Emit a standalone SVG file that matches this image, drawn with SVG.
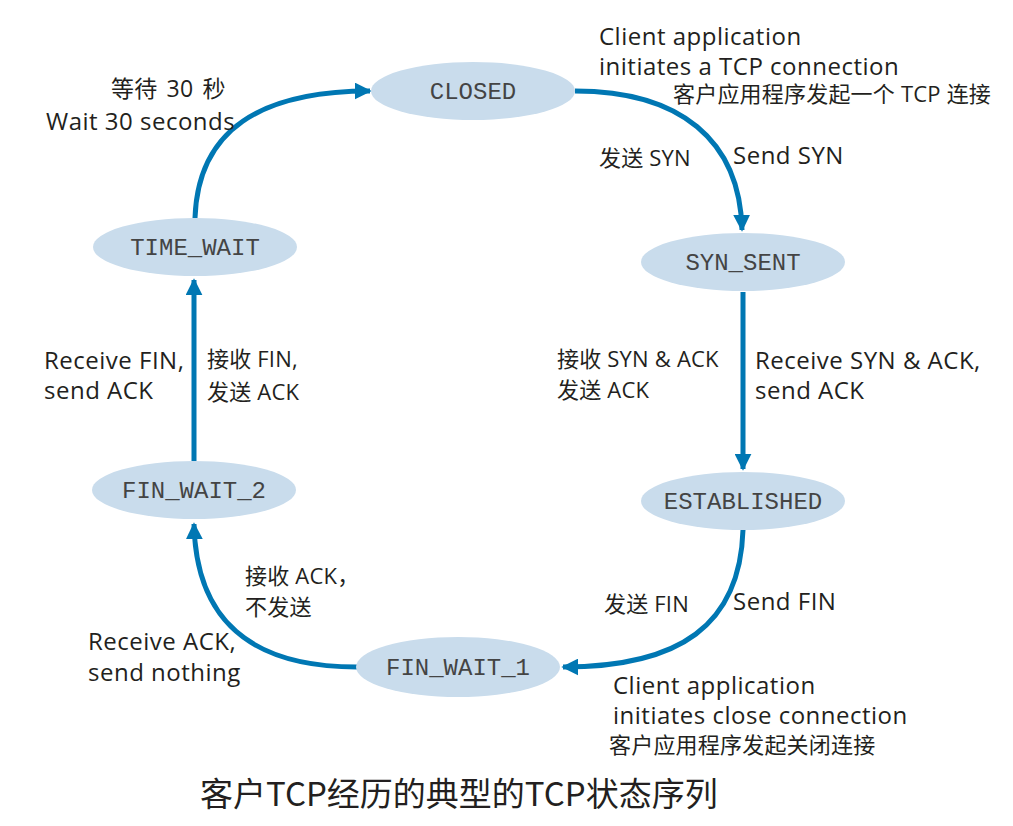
<svg xmlns="http://www.w3.org/2000/svg" width="1013" height="826" viewBox="0 0 1013 826">
<style>
.node{fill:#c9dcec}
.lbl{font-family:"Liberation Mono","Courier New",monospace;font-size:24px;fill:#444;text-anchor:middle}
.en{font-family:"Open Sans","Noto Sans",sans-serif;font-size:24px;letter-spacing:0.5px;fill:#231f20}
.cn{font-family:"Open Sans","Noto Sans CJK SC",sans-serif;font-size:22px;letter-spacing:0.2px;fill:#231f20}
.title{font-family:"Noto Sans CJK SC",sans-serif;font-size:33px;fill:#231f20}
.edge{fill:none;stroke:#0077b3;stroke-width:5}
</style>
<defs>
<marker id="arr" viewBox="0 0 10 10" refX="9" refY="5" markerWidth="3.4" markerHeight="3.4" markerUnits="strokeWidth" orient="auto">
<path d="M0,0 L10,5 L0,10 Z" fill="#0077b3"/>
</marker>
</defs>
<rect width="1013" height="826" fill="#fff"/>
<g id="connectors">
<path class="edge" d="M575,91 C680,91 740,140 742,230" marker-end="url(#arr)"/>
<path class="edge" d="M743,292 L743,469" marker-end="url(#arr)"/>
<path class="edge" d="M743,530 C740,625 680,667 563,667" marker-end="url(#arr)"/>
<path class="edge" d="M357,667 C250,667 196,620 194,524" marker-end="url(#arr)"/>
<path class="edge" d="M194,461 L194,280" marker-end="url(#arr)"/>
<path class="edge" d="M195,218 C198,130 260,91 370,91" marker-end="url(#arr)"/>
</g>
<g id="closed"><ellipse class="node" cx="473" cy="91" rx="102" ry="29"/><text class="lbl" x="473" y="99">CLOSED</text></g>
<g id="syn_sent"><ellipse class="node" cx="743" cy="262" rx="102" ry="29"/><text class="lbl" x="743" y="270">SYN_SENT</text></g>
<g id="established"><ellipse class="node" cx="743" cy="501" rx="102" ry="29"/><text class="lbl" x="743" y="509">ESTABLISHED</text></g>
<g id="fin_wait_1"><ellipse class="node" cx="458" cy="667" rx="102" ry="30"/><text class="lbl" x="458" y="675">FIN_WAIT_1</text></g>
<g id="fin_wait_2"><ellipse class="node" cx="194" cy="490" rx="102" ry="29"/><text class="lbl" x="194" y="498">FIN_WAIT_2</text></g>
<g id="time_wait"><ellipse class="node" cx="195" cy="247" rx="102" ry="29"/><text class="lbl" x="195" y="255">TIME_WAIT</text></g>
<g id="labels">
<text class="en" x="599" y="45">Client application</text>
<text class="en" x="599" y="75">initiates a TCP connection</text>
<text class="cn" x="673" y="102">客户应用程序发起一个 TCP 连接</text>
<text class="cn" x="111" y="97" style="font-size:23px;word-spacing:3px">等待 30 秒</text>
<text class="en" x="46" y="130">Wait 30 seconds</text>
<text class="cn" x="599" y="166">发送 SYN</text>
<text class="en" x="733" y="164">Send SYN</text>
<text class="cn" x="557" y="367">接收 SYN &amp; ACK</text>
<text class="cn" x="557" y="398">发送 ACK</text>
<text class="en" x="755" y="369">Receive SYN &amp; ACK,</text>
<text class="en" x="755" y="399">send ACK</text>
<text class="en" x="44" y="369">Receive FIN,</text>
<text class="en" x="44" y="399">send ACK</text>
<text class="cn" x="207" y="367">接收 FIN,</text>
<text class="cn" x="207" y="400">发送 ACK</text>
<text class="cn" x="245" y="584">接收 ACK，</text>
<text class="cn" x="245" y="615">不发送</text>
<text class="en" x="88" y="650">Receive ACK,</text>
<text class="en" x="88" y="681">send nothing</text>
<text class="cn" x="604" y="612">发送 FIN</text>
<text class="en" x="733" y="610">Send FIN</text>
<text class="en" x="613" y="694">Client application</text>
<text class="en" x="613" y="724">initiates close connection</text>
<text class="cn" x="609" y="753">客户应用程序发起关闭连接</text>
<text class="title" x="200" y="806">客户TCP经历的典型的TCP状态序列</text>
</g>
</svg>
